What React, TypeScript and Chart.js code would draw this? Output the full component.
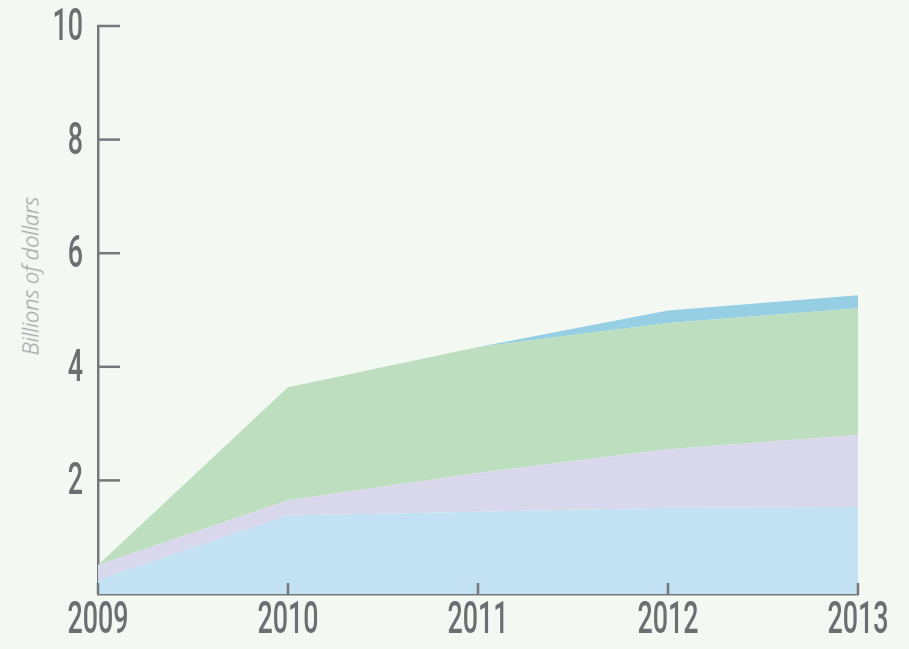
import React, { useEffect, useRef } from "react";
import { Chart, registerables } from "chart.js";

Chart.register(...registerables);

const years = ["2009", "2010", "2011", "2012", "2013"];
const seriesBase = [0.25, 1.38, 1.45, 1.52, 1.53];
const seriesSecond = [0.26, 0.27, 0.68, 1.03, 1.27];
const seriesThird = [0.0, 1.99, 2.22, 2.22, 2.23];
const seriesTop = [0, 0, 0, 0.22, 0.23];
const yTickValues = [0, 2, 4, 6, 8, 10];
const yTitle = "Billions of dollars";

const axisColor = "#76777a";
const labelColor = "#6d6e71";
const bg = "#f4f8f3";
const tickFamily = "Roboto";
const condense = 0.61;

// Draw tick-label text horizontally condensed (the reference uses a tall, narrow face)
const condensedText = {
  id: "condensedText",
  beforeDraw(chart: any) {
    const ctx = chart.ctx;
    if (ctx.__condensed) return;
    ctx.__condensed = true;
    const orig = ctx.fillText.bind(ctx);
    ctx.fillText = (text: string, x: number, y: number, maxWidth?: number) => {
      if (String(ctx.font).indexOf(tickFamily) >= 0) {
        ctx.save();
        ctx.translate(x, y + 3);
        ctx.scale(condense, 1);
        orig(text, 0, 0);
        ctx.restore();
      } else if (maxWidth !== undefined) {
        orig(text, x, y, maxWidth);
      } else {
        orig(text, x, y);
      }
    };
  },
};

const tickMarks = {
  id: "tickMarks",
  afterDatasetsDraw(chart: any) {
    const { ctx, chartArea, scales } = chart;
    const x = scales.x;
    const y = scales.y;
    ctx.save();
    ctx.strokeStyle = axisColor;
    ctx.lineWidth = 2.5;
    y.ticks.forEach((t: any) => {
      if (t.value === 0) return;
      const py = y.getPixelForValue(t.value);
      ctx.beginPath();
      ctx.moveTo(chartArea.left, py);
      ctx.lineTo(chartArea.left + 22, py);
      ctx.stroke();
    });
    x.ticks.forEach((_t: any, i: number) => {
      const px = x.getPixelForTick(i);
      ctx.beginPath();
      ctx.moveTo(px, chartArea.bottom);
      ctx.lineTo(px, chartArea.bottom - 11);
      ctx.stroke();
    });
    ctx.restore();
  },
};

export default function App() {
  const ref = useRef<HTMLCanvasElement>(null);
  useEffect(() => {
    if (!ref.current) return;
    const ds = (label: string, data: number[], color: string, fill: any) => ({
      label,
      data,
      backgroundColor: color,
      borderColor: color,
      borderWidth: 0,
      pointRadius: 0,
      tension: 0,
      fill,
    });
    const chart = new Chart(ref.current, {
      type: "line",
      data: {
        labels: years,
        datasets: [
          ds("A", seriesBase, "#c2e1f2", "origin"),
          ds("B", seriesSecond, "#d8d7ec", "-1"),
          ds("C", seriesThird, "#bddfbf", "-1"),
          ds("D", seriesTop, "#96cfe3", "-1"),
        ],
      },
      options: {
        animation: false,
        responsive: false,
        maintainAspectRatio: false,
        layout: { padding: { top: 26, right: 51, left: 0, bottom: 0 } },
        plugins: { legend: { display: false }, tooltip: { enabled: false } },
        scales: {
          x: {
            type: "category",
            offset: false,
            z: 1,
            grid: { display: false, drawTicks: false },
            border: { display: true, color: axisColor, width: 2.5 },
            ticks: {
              color: labelColor,
              font: { family: tickFamily, size: 44, weight: "500", lineHeight: 1 },
              padding: 3,
              maxRotation: 0,
              autoSkip: false,
            },
            afterFit: (s: any) => {
              s.height = 55;
              s.paddingLeft = 0;
              s.paddingRight = 0;
            },
          },
          y: {
            stacked: true,
            min: 0,
            max: 10,
            z: 1,
            grid: { display: false, drawTicks: false },
            border: { display: true, color: axisColor, width: 2.5 },
            afterBuildTicks: (s: any) => {
              s.ticks = yTickValues.map((v) => ({ value: v }));
            },
            ticks: {
              color: labelColor,
              font: { family: tickFamily, size: 44, weight: "500", lineHeight: 1 },
              padding: 15,
              callback: (v: any) => (v === 0 ? "" : String(v)),
            },
            afterFit: (s: any) => {
              s.width = 98;
              s.paddingTop = 0;
              s.paddingBottom = 0;
            },
          },
        },
      },
      plugins: [condensedText, tickMarks],
    });
    return () => chart.destroy();
  }, []);
  return (
    <div style={{ position: "fixed", left: 0, top: 0, width: 909, height: 649, background: bg }}>
      <canvas ref={ref} width={909} height={649} style={{ display: "block" }} />
      <div
        style={{
          position: "absolute",
          left: 30,
          top: 276,
          transform: "translate(-50%, -50%) rotate(-90deg)",
          whiteSpace: "nowrap",
          fontFamily: "'Open Sans', sans-serif",
          fontStyle: "italic",
          fontWeight: 300,
          fontSize: 21.5,
          color: "#8c8d90",
        }}
      >
        {yTitle}
      </div>
    </div>
  );
}
